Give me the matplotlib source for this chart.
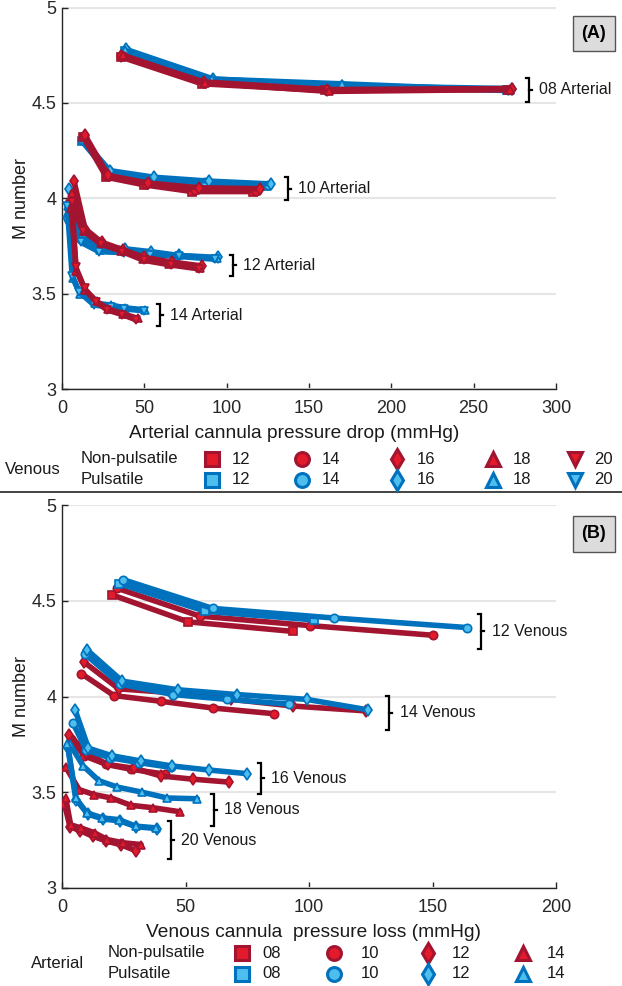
import matplotlib
matplotlib.use("Agg")
import matplotlib.pyplot as plt

plt.rcParams['font.family'] = ['Liberation Sans', 'DejaVu Sans']

# ---------------- Panel A data (grouped by arterial cannula, series = venous size) -------------
a08_venous = [12, 14, 16, 18]
a08_np_x = [[36, 85, 160, 271], [37, 86, 161, 272], [36, 86, 161, 273], [37, 87, 162, 272]]
a08_np_y = [[4.74, 4.60, 4.565, 4.57], [4.745, 4.605, 4.565, 4.575], [4.745, 4.61, 4.57, 4.575], [4.75, 4.605, 4.56, 4.57]]
a08_p_x = [[38, 90, 168, 270], [39, 91, 169, 271], [39, 92, 170, 273], [38, 91, 170, 272]]
a08_p_y = [[4.77, 4.62, 4.585, 4.565], [4.775, 4.62, 4.59, 4.57], [4.78, 4.625, 4.59, 4.575], [4.775, 4.625, 4.60, 4.565]]

a10_venous = [12, 14, 16]
a10_np_x = [[13, 27, 50, 79, 116], [13.5, 27.5, 51, 81, 118], [14, 28, 52, 83, 120]]
a10_np_y = [[4.32, 4.11, 4.07, 4.035, 4.035], [4.325, 4.115, 4.075, 4.045, 4.04], [4.33, 4.12, 4.08, 4.055, 4.05]]
a10_p_x = [[12, 28, 54, 86, 124], [12, 28.5, 55, 87, 125], [12.5, 29, 56, 89, 127]]
a10_p_y = [[4.30, 4.135, 4.10, 4.08, 4.065], [4.305, 4.14, 4.105, 4.085, 4.07], [4.31, 4.145, 4.11, 4.09, 4.075]]

a12_venous = [16, 18, 20]
a12_np_x = [[7.3, 14, 24, 37, 50, 67, 85], [6, 13.5, 23.5, 36, 49, 65, 84], [5, 13, 23.4, 36.6, 49.5, 66, 83]]
a12_np_y = [[4.09, 3.84, 3.77, 3.73, 3.69, 3.665, 3.645], [4.03, 3.83, 3.765, 3.725, 3.68, 3.655, 3.635],
            [3.97, 3.83, 3.76, 3.72, 3.675, 3.65, 3.63]]
a12_p_x = [[4.2, 12, 23, 38, 54, 71, 95], [3.8, 11.8, 22.8, 37.8, 53.8, 71, 94], [3.2, 11.3, 22.4, 37.6, 53.7, 70.9, 93]]
a12_p_y = [[4.05, 3.80, 3.745, 3.735, 3.72, 3.70, 3.69], [3.96, 3.79, 3.73, 3.725, 3.71, 3.70, 3.685],
           [3.88, 3.77, 3.72, 3.715, 3.705, 3.695, 3.68]]

a14_venous = [18, 20]
a14_np_x = [[5.5, 8.8, 14, 21, 28, 37, 46], [6.2, 8.3, 13.7, 20.4, 27.5, 36.6, 45.2]]
a14_np_y = [[3.95, 3.62, 3.52, 3.46, 3.42, 3.395, 3.37], [3.98, 3.64, 3.527, 3.458, 3.414, 3.39, 3.362]]
a14_p_x = [[3.8, 6.8, 11, 20, 30, 38.5, 50.5], [3.2, 6.2, 10.3, 19.4, 29.5, 37.6, 49.7]]
a14_p_y = [[3.93, 3.58, 3.50, 3.45, 3.44, 3.425, 3.415], [3.96, 3.59, 3.51, 3.44, 3.43, 3.42, 3.41]]

a_labels = ["08 Arterial", "10 Arterial", "12 Arterial", "14 Arterial"]

# ---------------- Panel B data (grouped by venous cannula, series = arterial size) -------------
v12_arterial = [8, 10]
v12_np_x = [[20.4, 51, 93.5], [22.4, 55.7, 100.6, 150]]
v12_np_y = [[4.53, 4.39, 4.34], [4.565, 4.42, 4.37, 4.32]]
v12_p_x = [[23, 58, 102], [24.8, 61, 110, 164]]
v12_p_y = [[4.59, 4.445, 4.40], [4.61, 4.46, 4.41, 4.36]]

v14_arterial = [10, 12]
v14_np_x = [[7.8, 21, 40, 61, 86], [8.9, 23, 44.3, 68.6, 93.6, 123]]
v14_np_y = [[4.12, 4.005, 3.975, 3.94, 3.91], [4.18, 4.04, 4.02, 3.985, 3.95, 3.925]]
v14_p_x = [[9.5, 23.5, 45, 67, 92], [10, 24.4, 47, 71, 99, 124]]
v14_p_y = [[4.22, 4.065, 4.01, 3.985, 3.96], [4.245, 4.08, 4.035, 4.01, 3.985, 3.93]]

v16_arterial = [10, 12]
v16_np_x = [[3.5, 9, 18, 28, 41.5], [3, 9.8, 18.5, 29.2, 40, 53.2, 67.6]]
v16_np_y = [[3.78, 3.69, 3.645, 3.62, 3.595], [3.80, 3.705, 3.645, 3.625, 3.585, 3.568, 3.553]]
v16_p_x = [[4.5, 9.8, 19.5, 31, 44], [5.3, 10.7, 20.4, 32.1, 44.7, 59.5, 75]]
v16_p_y = [[3.86, 3.72, 3.68, 3.655, 3.63], [3.93, 3.73, 3.69, 3.663, 3.637, 3.616, 3.597]]

v18_arterial = [14]
v18_np_x = [[1.5, 6.9, 12.9, 20, 27.8, 36.9, 47.8]]
v18_np_y = [[3.632, 3.514, 3.488, 3.47, 3.432, 3.419, 3.398]]
v18_p_x = [[3.2, 8.6, 15, 22.4, 32.5, 42.6, 54.8]]
v18_p_y = [[3.75, 3.637, 3.56, 3.527, 3.50, 3.47, 3.466]]

v20_arterial = [12, 14]
v20_np_x = [[1.0, 3.2, 7.2, 12.5, 18, 24, 29.8], [1.5, 3.5, 7.6, 13.2, 18.3, 24.8, 32]]
v20_np_y = [[3.44, 3.32, 3.30, 3.27, 3.245, 3.225, 3.195], [3.47, 3.33, 3.314, 3.288, 3.253, 3.236, 3.227]]
v20_p_x = [[2.5, 5.8, 10.5, 16.8, 23.5, 30, 38.6], [2.2, 5.5, 10, 16.3, 23.1, 29.8, 38]]
v20_p_y = [[3.73, 3.46, 3.385, 3.36, 3.35, 3.32, 3.31], [3.75, 3.471, 3.393, 3.366, 3.357, 3.323, 3.314]]

b_labels = ["12 Venous", "14 Venous", "16 Venous", "18 Venous", "20 Venous"]

# legend entries
venous_sizes = ["12", "14", "16", "18", "20"]
arterial_sizes = ["08", "10", "12", "14"]

# ---------------- styles ----------------
RED_LINE, RED_FACE = '#A2142F', '#E31A2A'
BLUE_LINE, BLUE_FACE = '#0072BD', '#4DBEEE'
marker_venous = {12: 's', 14: 'o', 16: 'd', 18: '^', 20: 'v'}
marker_arterial = {8: 's', 10: 'o', 12: 'd', 14: '^'}
LW, MS, MEW = 4.0, 6.0, 1.2
TXT = '#1a1a1a'

W, H = 622, 986
fig = plt.figure(figsize=(W / 100, H / 100), dpi=100)

def px_axes(x0, x1, y0, y1):
    return fig.add_axes([x0 / W, 1 - y1 / H, (x1 - x0) / W, (y1 - y0) / H])

axA = px_axes(62, 556, 7.5, 389)
axB = px_axes(62, 556, 505, 888)

def style(ax, xmax, xstep, xlabel, label_x):
    ax.set_xlim(0, xmax)
    ax.set_ylim(3, 5)
    ax.set_xticks(range(0, xmax + 1, xstep))
    ax.set_yticks([3, 3.5, 4, 4.5, 5])
    ax.set_yticklabels(['3', '3.5', '4', '4.5', '5'])
    for s in ['top', 'right']:
        ax.spines[s].set_visible(False)
    for s in ['left', 'bottom']:
        ax.spines[s].set_linewidth(1.0)
        ax.spines[s].set_color('#262626')
    ax.tick_params(direction='in', length=4, width=1, labelsize=13, colors='#262626')
    ax.tick_params(axis='x', pad=8)
    ax.tick_params(axis='y', pad=4)
    ax.yaxis.grid(True, color='#e6e6e6', linewidth=1.5)
    ax.set_axisbelow(True)
    ax.set_xlabel(xlabel, fontsize=13.8, labelpad=6, color=TXT)
    ax.xaxis.label.set_x(label_x)
    ax.set_ylabel('M number', fontsize=13, labelpad=1, color=TXT)

style(axA, 300, 50, 'Arterial cannula pressure drop (mmHg)', 0.47)
style(axB, 200, 50, 'Venous cannula  pressure loss (mmHg)', 0.51)

def draw_group(ax, sizes, mk, np_x, np_y, p_x, p_y, red_first):
    layers = [(np_x, np_y, RED_LINE, RED_FACE), (p_x, p_y, BLUE_LINE, BLUE_FACE)]
    if not red_first:
        layers = layers[::-1]
    for xs_all, ys_all, lc, fc in layers:
        for s, xs, ys in zip(sizes, xs_all, ys_all):
            ax.plot(xs, ys, color=lc, lw=LW, marker=mk[s], ms=MS, mfc=fc, mec=lc,
                    mew=MEW, solid_joinstyle='round', solid_capstyle='round', zorder=3)

draw_group(axA, a08_venous, marker_venous, a08_np_x, a08_np_y, a08_p_x, a08_p_y, False)
draw_group(axA, a10_venous, marker_venous, a10_np_x, a10_np_y, a10_p_x, a10_p_y, False)
draw_group(axA, a12_venous, marker_venous, a12_np_x, a12_np_y, a12_p_x, a12_p_y, False)
draw_group(axA, a14_venous, marker_venous, a14_np_x, a14_np_y, a14_p_x, a14_p_y, False)

draw_group(axB, v12_arterial, marker_arterial, v12_np_x, v12_np_y, v12_p_x, v12_p_y, True)
draw_group(axB, v14_arterial, marker_arterial, v14_np_x, v14_np_y, v14_p_x, v14_p_y, True)
draw_group(axB, v16_arterial, marker_arterial, v16_np_x, v16_np_y, v16_p_x, v16_p_y, True)
draw_group(axB, v18_arterial, marker_arterial, v18_np_x, v18_np_y, v18_p_x, v18_p_y, True)
draw_group(axB, v20_arterial, marker_arterial, v20_np_x, v20_np_y, v20_p_x, v20_p_y, True)

# ---------------- group brackets ----------------
def bracket(ax, x, y0, y1, label, pxu):
    t = 3.0 / pxu
    ym = (y0 + y1) / 2
    ax.plot([x - t, x, x, x - t], [y1, y1, y0, y0], color='black', lw=1.6,
            clip_on=False, solid_joinstyle='miter', zorder=4)
    ax.plot([x, x + t], [ym, ym], color='black', lw=1.6, clip_on=False, zorder=4)
    ax.text(x + 3.5 * t, ym, label, fontsize=11.5, va='center', ha='left',
            clip_on=False, color=TXT)

pxA = 494 / 300
pxB = 494 / 200
a_br_x = [283.5, 137, 103.6, 59.4]
a_br_y = [(4.505, 4.63), (3.99, 4.11), (3.59, 3.705), (3.33, 3.445)]
for lab, bx, (y0, y1) in zip(a_labels, a_br_x, a_br_y):
    bracket(axA, bx, y0, y1, lab, pxA)

b_br_x = [169.8, 132.4, 80.4, 61.5, 44]
b_br_y = [(4.25, 4.43), (3.825, 4.005), (3.49, 3.655), (3.325, 3.49), (3.15, 3.35)]
for lab, bx, (y0, y1) in zip(b_labels, b_br_x, b_br_y):
    bracket(axB, bx, y0, y1, lab, pxB)

# ---------------- panel tags ----------------
for tag, yc in [('(A)', 33.5), ('(B)', 534)]:
    fig.text(594 / W, 1 - yc / H, tag, fontsize=13, fontweight='bold', ha='center', va='center',
             bbox=dict(boxstyle='square,pad=0.5', fc='#dcdcdc', ec='#555555', lw=1.0))

# ---------------- legends (overlay in pixel coordinates) ----------------
lg = fig.add_axes([0, 0, 1, 1], zorder=-1)
lg.set_xlim(0, W)
lg.set_ylim(H, 0)
lg.axis('off')

lg.plot([0, W], [492, 492], color='#222222', lw=1.2)

def legend_block(label, lx, row_np, row_p, tx0, names, mk_list, mk_x, txt_x):
    lg.text(lx, (row_np + row_p) / 2 + 1, label, fontsize=12, va='center', ha='left', color=TXT)
    lg.text(tx0, row_np, 'Non-pulsatile', fontsize=12, va='center', ha='left', color=TXT)
    lg.text(tx0, row_p, 'Pulsatile', fontsize=12, va='center', ha='left', color=TXT)
    for name, m, mx, tx in zip(names, mk_list, mk_x, txt_x):
        for yy, lc, fc in [(row_np, RED_LINE, RED_FACE), (row_p, BLUE_LINE, BLUE_FACE)]:
            lg.plot([mx], [yy + 1], marker=m, ms=10, mfc=fc, mec=lc, mew=2.2, ls='none')
            lg.text(tx, yy + 1, name, fontsize=12, va='center', ha='left', color=TXT)

legend_block('Venous', 5, 458, 479, 81, venous_sizes, ['s', 'o', 'd', '^', 'v'],
             [212, 302, 397, 493, 575], [232, 322, 417, 513, 594])
legend_block('Arterial', 31, 952, 973, 108, arterial_sizes, ['s', 'o', 'd', '^'],
             [242, 334, 428, 523], [262, 361, 452, 547])

fig.savefig('out.png', dpi=100)
